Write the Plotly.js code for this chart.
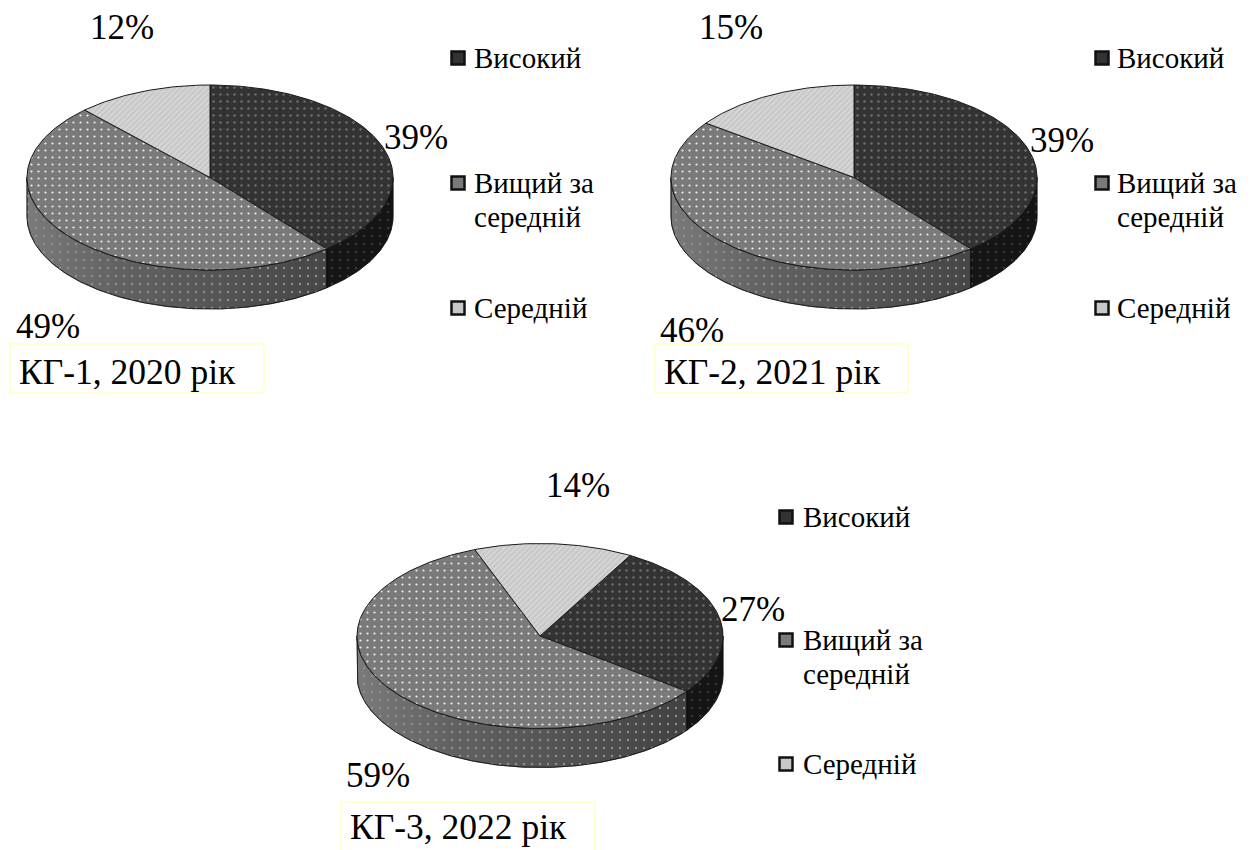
<!DOCTYPE html>
<html><head><meta charset="utf-8">
<script src="https://cdn.plot.ly/plotly-3.0.1.min.js"></script>
<style>html,body{margin:0;padding:0;background:#fff}#c{width:1252px;height:850px}</style></head>
<body><div id="c"></div>
<script>
const categories = ['Високий', 'Вищий за<br>середній', 'Середній'];
const captions = ['КГ-1, 2020 рік', 'КГ-2, 2021 рік', 'КГ-3, 2022 рік'];
const shares1 = [39, 49, 12];
const shares2 = [39, 46, 15];
const shares3 = [27, 59, 14];

const panels = [
  {v: shares1, cx: 210, cy: 177.5, rot: 0,
   labels: [[416,137],[48,326],[122,27]], sx: 458, tx: 472, ly: [58,183,308], box: [10,344,264,393], cap: [17,372]},
  {v: shares2, cx: 854, cy: 177.5, rot: 0,
   labels: [[1062,140],[692,330],[731,27]], sx: 1102, tx: 1115, ly: [58,183,308], box: [655,344,908,393], cap: [662,372]},
  {v: shares3, cx: 540, cy: 636, rot: 29.5,
   labels: [[753,609],[378,775],[578,485]], sx: 786, tx: 801, ly: [517,640,764], box: [341,802,595,852], cap: [348,827]}
];
const RX = 183, RY = 92.5, DEPTH = 39, LINE_GAP = 34;
const colors = ['#333333', '#7a7a7a', '#c8c8c8'];
const patterns = [
  {shape:'.', fgcolor:'#6e6e6e', size:7, solidity:0.1},
  {shape:'.', fgcolor:'#eeeeee', size:7, solidity:0.08},
  {shape:'/', fgcolor:'#dcdcdc', size:4, solidity:0.3}
];
const wallScales = [
  [[0,'#1e1e1e'],[1,'#141414']],
  [[0,'#7a7a7a'],[0.25,'#626262'],[0.7,'#4c4c4c'],[1,'#3c3c3c']],
  [[0,'#999999'],[1,'#999999']]
];
const wallDots = ['#3a3a3a', '#8f8f8f', '#cccccc'];
const FONT = 'Liberation Serif, Times New Roman, serif';

const rad = d => d * Math.PI / 180;
const px = (p, t) => p.cx + RX * Math.sin(rad(t));
const py = (p, t, dz) => p.cy + dz - RY * Math.cos(rad(t));

const traces = [], annotations = [], shapes = [];

panels.forEach((p, pi) => {
  const total = p.v.reduce((a, b) => a + b, 0);
  let start = p.rot;
  const arcs = p.v.map(val => { const a = [start, start + val / total * 360]; start = a[1]; return a; });

  arcs.forEach((a, i) => {
    [0, 360].forEach(off => {
      const t1 = Math.max(a[0], 90 + off), t2 = Math.min(a[1], 270 + off);
      if (t2 <= t1) return;
      const x = [], y = [];
      for (let t = t1; ; t = Math.min(t + 1, t2)) { x.push(px(p, t)); y.push(py(p, t, 0)); if (t >= t2) break; }
      for (let t = t2; ; t = Math.max(t - 1, t1)) { x.push(px(p, t)); y.push(py(p, t, DEPTH)); if (t <= t1) break; }
      x.push(x[0]); y.push(y[0]);
      traces.push({type:'scatter', mode:'lines', x, y, fill:'toself', hoverinfo:'skip', showlegend:false,
        line:{color:'#111111', width:0.7},
        fillgradient:{type:'horizontal', colorscale:wallScales[i], start:p.cx - RX, stop:p.cx + RX}});
      traces.push({type:'scatter', mode:'lines', x, y, fill:'toself', hoverinfo:'skip', showlegend:false,
        line:{color:'#111111', width:0.7}, fillcolor:'rgba(0,0,0,0)',
        fillpattern:{shape:'.', fgcolor:wallDots[i], bgcolor:'rgba(0,0,0,0)', size:8, solidity:0.07}});
    });
  });

  arcs.forEach((a, i) => {
    const x = [p.cx], y = [p.cy];
    for (let t = a[0]; ; t = Math.min(t + 1, a[1])) { x.push(px(p, t)); y.push(py(p, t, 0)); if (t >= a[1]) break; }
    x.push(p.cx); y.push(p.cy);
    traces.push({type:'scatter', mode:'lines', x, y, fill:'toself', name:categories[i], hoverinfo:'skip', showlegend:false,
      line:{color:'#1a1a1a', width:1}, fillcolor:colors[i],
      fillpattern:Object.assign({bgcolor:colors[i]}, patterns[i])});
    annotations.push({x:p.labels[i][0], y:p.labels[i][1], text:p.v[i] + '%', showarrow:false,
      xanchor:'center', yanchor:'middle', font:{family:FONT, size:35, color:'#000'}});
  });

  traces.push({type:'scatter', mode:'markers', x:p.ly.map(() => p.sx), y:p.ly, hoverinfo:'skip', showlegend:false,
    marker:{symbol:'square', size:13, color:colors, line:{color:'#111111', width:2.5}}});
  categories.forEach((c, i) => {
    c.split('<br>').forEach((line, k) => {
      annotations.push({x:p.tx, y:p.ly[i] + k * LINE_GAP, text:line, showarrow:false, xanchor:'left', yanchor:'middle', align:'left',
        font:{family:FONT, size:29, color:'#000'}});
    });
  });

  shapes.push({type:'rect', x0:p.box[0], y0:p.box[1], x1:p.box[2], y1:p.box[3], line:{color:'#ffffc0', width:1.5}, fillcolor:'rgba(0,0,0,0)'});
  annotations.push({x:p.cap[0], y:p.cap[1], text:captions[pi], showarrow:false, xanchor:'left', yanchor:'middle',
    font:{family:FONT, size:35.5, color:'#000'}});
});

Plotly.newPlot('c', traces, {
  width:1252, height:850, margin:{l:0,r:0,t:0,b:0}, showlegend:false,
  paper_bgcolor:'#fff', plot_bgcolor:'#fff',
  xaxis:{range:[0,1252], visible:false, fixedrange:true},
  yaxis:{range:[850,0], visible:false, fixedrange:true},
  shapes, annotations
}, {displayModeBar:false, staticPlot:true});
</script></body></html>
